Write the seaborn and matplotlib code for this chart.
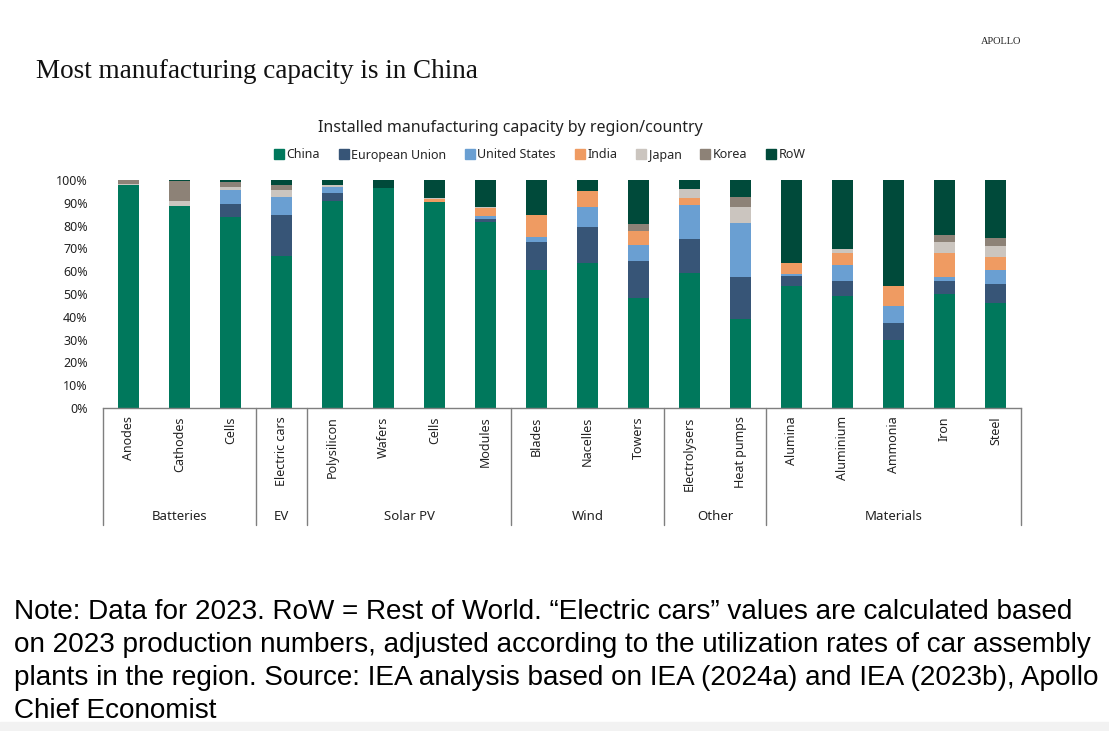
import numpy as np
import pandas as pd
import matplotlib
matplotlib.use("Agg")
import matplotlib.pyplot as plt
from matplotlib.patches import Rectangle
from matplotlib.lines import Line2D
import seaborn as sns

# categories (group, item)
groups = ['Batteries', 'Batteries', 'Batteries', 'EV', 'Solar PV', 'Solar PV', 'Solar PV', 'Solar PV',
          'Wind', 'Wind', 'Wind', 'Other', 'Other',
          'Materials', 'Materials', 'Materials', 'Materials', 'Materials']
items = ['Anodes', 'Cathodes', 'Cells', 'Electric cars', 'Polysilicon', 'Wafers', 'Cells', 'Modules',
         'Blades', 'Nacelles', 'Towers', 'Electrolysers', 'Heat pumps',
         'Alumina', 'Aluminium', 'Ammonia', 'Iron', 'Steel']

regions = ['China', 'European Union', 'United States', 'India', 'Japan', 'Korea', 'RoW']

# shares in %
china = [97.7, 88.4, 83.6, 66.8, 91.0, 96.5, 90.2, 81.5, 60.5, 63.7, 48.3, 59.0, 38.9, 53.7, 49.3, 29.7, 50.2, 46.1]
eu    = [0.0, 0.0, 6.0, 17.9, 3.2, 0.0, 0.0, 1.3, 12.3, 15.9, 16.2, 15.1, 18.6, 4.3, 6.3, 7.5, 5.3, 8.5]
us    = [0.0, 0.0, 5.9, 7.8, 2.8, 0.0, 0.0, 1.6, 2.3, 8.4, 7.0, 14.8, 23.6, 0.7, 7.2, 7.6, 2.1, 5.9]
india = [0.0, 0.0, 0.0, 0.0, 0.0, 0.0, 1.6, 3.2, 9.5, 7.3, 6.2, 3.1, 0.0, 5.1, 5.0, 8.7, 10.6, 5.9]
japan = [0.6, 2.6, 1.6, 2.9, 0.9, 0.0, 0.4, 0.6, 0.0, 0.0, 0.0, 4.1, 7.0, 0.0, 1.8, 0.0, 4.6, 4.8]
korea = [1.5, 8.4, 1.9, 2.2, 0.0, 0.0, 0.0, 0.0, 0.0, 0.0, 2.8, 0.0, 4.4, 0.0, 0.0, 0.0, 3.1, 3.2]
row   = [0.2, 0.6, 1.0, 2.3, 2.1, 3.5, 7.8, 11.8, 15.4, 4.7, 19.5, 3.8, 7.5, 36.2, 30.4, 46.5, 24.1, 25.6]

colors = ['#00785C', '#375577', '#6A9FD2', '#EF9B62', '#CBC5BF', '#8D8277', '#004A3A']

keys = [g + '|' + i for g, i in zip(groups, items)]
df = pd.DataFrame({'key': keys, 'China': china, 'European Union': eu, 'United States': us,
                   'India': india, 'Japan': japan, 'Korea': korea, 'RoW': row})

sns.set_style('white')
plt.rcParams['font.family'] = ['Noto Sans', 'DejaVu Sans']

fig = plt.figure(figsize=(11.09, 7.31), dpi=100)
ax = fig.add_axes([103 / 1109, 323 / 731, 918 / 1109, 228 / 731])

bottom = np.zeros(len(keys))
for reg, col in zip(regions, colors):
    vals = df[reg].values / 100
    sns.barplot(x=df['key'], y=vals, bottom=bottom, color=col, saturation=1,
                width=0.4, ax=ax, order=keys, linewidth=0, edgecolor='none')
    bottom += vals

ax.set_xlim(-0.5, len(keys) - 0.5)
ax.set_ylim(0, 1)
ax.set_yticks(np.arange(0, 1.01, 0.1))
ax.set_yticklabels([f'{int(round(v * 100))}%' for v in np.arange(0, 1.01, 0.1)], fontsize=9, color='#222222')
ax.set_xticks(range(len(keys)))
ax.set_xticklabels(items, rotation=90, fontsize=9, color='#222222', va='top')
ax.tick_params(axis='both', length=0)
ax.tick_params(axis='y', pad=11)
ax.tick_params(axis='x', pad=6)
ax.set_xlabel('')
ax.set_ylabel('')
for s in ['top', 'right', 'left']:
    ax.spines[s].set_visible(False)
ax.spines['bottom'].set_color('#7f7f7f')
ax.spines['bottom'].set_linewidth(1)

# group box under the category axis
trans = ax.get_xaxis_transform()
depth = (525 - 408) / 228
bounds = [-0.5]
for k in range(1, len(groups)):
    if groups[k] != groups[k - 1]:
        bounds.append(k - 0.5)
bounds.append(len(groups) - 0.5)
for b in bounds:
    ax.plot([b, b], [0, -depth], transform=trans, color='#7f7f7f', lw=1, clip_on=False)
for a, b in zip(bounds[:-1], bounds[1:]):
    name = groups[int(a + 0.5)]
    ax.text((a + b) / 2, -(516 - 408) / 228, name, transform=trans, ha='center', va='center',
            fontsize=9.5, color='#222222')

# subtitle and legend
fig.text(510 / 1109, (731 - 128) / 731, 'Installed manufacturing capacity by region/country',
         ha='center', va='center', fontsize=11.5, color='#222222')
handles = [Line2D([], [], marker='s', ls='', color=c, markersize=6.5) for c in colors]
fig.legend(handles, regions, loc='center', bbox_to_anchor=(539 / 1109, (731 - 155) / 731), ncol=7,
           frameon=False, fontsize=9, handletextpad=0.1, columnspacing=1.4, handlelength=1)

# headline and brand
fig.text(36 / 1109, (731 - 72) / 731, 'Most manufacturing capacity is in China', ha='left', va='center',
         fontsize=19.5, family='Liberation Serif', color='#111111')
fig.text(1001 / 1109, (731 - 41) / 731, 'APOLLO', ha='center', va='center', fontsize=7.5,
         family='Liberation Serif', color='#222222')

# footnote
note_lines = ['Note: Data for 2023. RoW = Rest of World. \u201cElectric cars\u201d values are calculated based',
              'on 2023 production numbers, adjusted according to the utilization rates of car assembly',
              'plants in the region. Source: IEA analysis based on IEA (2024a) and IEA (2023b), Apollo',
              'Chief Economist']
for n, line in enumerate(note_lines):
    fig.text(14 / 1109, (731 - (612 + 33 * n)) / 731, line, ha='left', va='center', fontsize=20.1,
             family='Liberation Sans', color='#000000')

fig.patches.append(Rectangle((0, 0), 1, 9 / 731, transform=fig.transFigure, color='#f2f2f2', zorder=0))

fig.savefig('out.png', dpi=100)
